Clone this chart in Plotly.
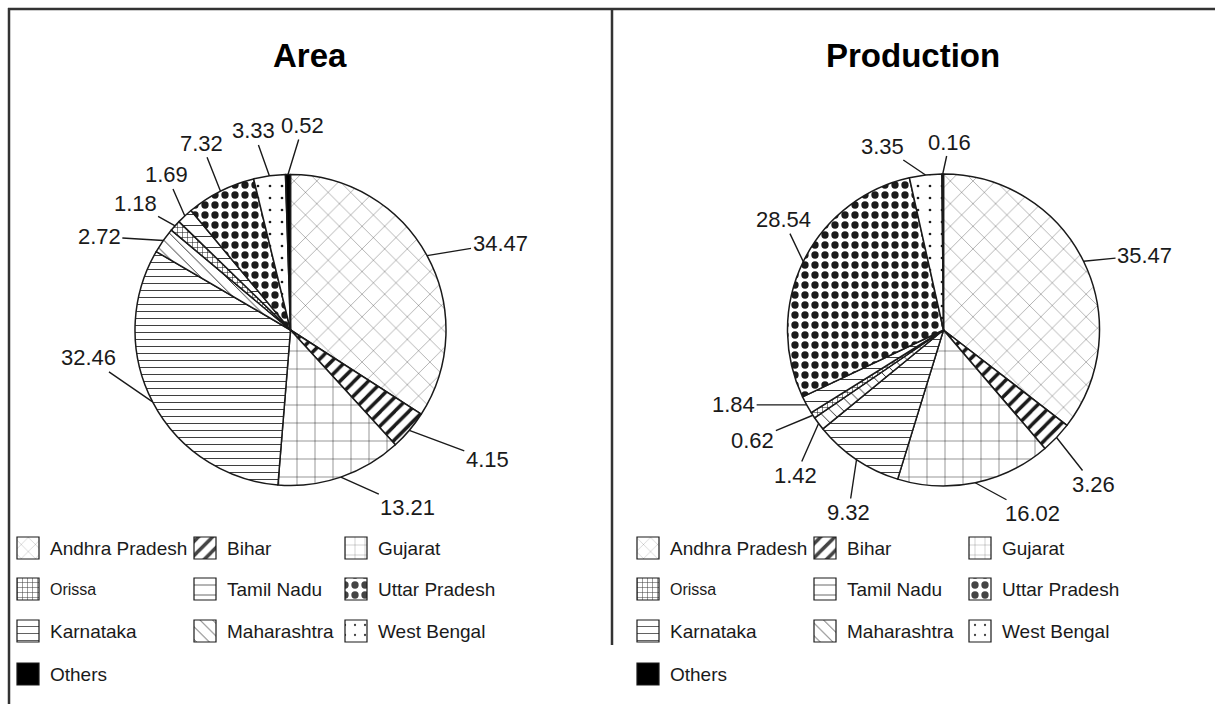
import math
import plotly.graph_objects as go

# ---------------- data ----------------
STATES = ["Andhra Pradesh", "Bihar", "Gujarat", "Karnataka", "Maharashtra",
          "Orissa", "Tamil Nadu", "Uttar Pradesh", "West Bengal", "Others"]
AREA_VALUES = [34.47, 4.15, 13.21, 32.46, 2.72, 1.18, 1.69, 7.32, 3.33, 0.52]
PRODUCTION_VALUES = [35.47, 3.26, 16.02, 9.32, 1.42, 0.62, 1.84, 28.54, 3.35, 0.16]
LEGEND_ORDER = ["Andhra Pradesh", "Bihar", "Gujarat",
                "Orissa", "Tamil Nadu", "Uttar Pradesh",
                "Karnataka", "Maharashtra", "West Bengal",
                "Others"]
TITLES = ["Area", "Production"]

# ---------------- style / layout ----------------
W, H = 1215, 704
FONT = "Liberation Sans, Arial, sans-serif"
INK = "#1a1a1a"

# pattern per state: (shape, tile size, solidity, fill colour)
PATTERNS = {
    "Andhra Pradesh": ("x", 16, 0.04, "white"),
    "Bihar": ("/", 10, 0.35, "white"),
    "Gujarat": ("+", 18, 0.05, "white"),
    "Karnataka": ("-", 7, 0.12, "white"),
    "Maharashtra": ("\\", 9, 0.10, "white"),
    "Orissa": ("+", 5, 0.20, "white"),
    "Tamil Nadu": ("-", 11, 0.08, "white"),
    "Uttar Pradesh": (".", 10, 0.42, "white"),
    "West Bengal": (".", 12, 0.04, "white"),
    "Others": ("", 8, 0.0, "black"),
}

# panel geometry (pixels): pie centre, radius, title x, legend column lefts
PANELS = [
    dict(cx=290.5, cy=330, r=155.5, title_x=310, cols=[17, 194, 345]),
    dict(cx=943.5, cy=330, r=156, title_x=913, cols=[637, 814, 969]),
]
LEGEND_ROWS_Y = [548, 589, 631, 674]
SWATCH = 22

# label text offsets (px) from the slice's mid-arc point
AREA_LABEL_OFFSETS = [(73, -12), (78, 29), (67, 30), (-64, -44), (-64, -4),
                      (-40, -22), (-18, -41), (-19, -48), (-16, -45), (15, -49)]
PROD_LABEL_OFFSETS = [(61, -6), (37, 47), (57, 31), (-8, 53), (-23, 52),
                      (-60, 25), (-73, 0), (-20, -42), (-43, -29), (7, -32)]


def pattern_lists(labels):
    shp = [PATTERNS[s][0] for s in labels]
    size = [PATTERNS[s][1] for s in labels]
    sol = [PATTERNS[s][2] for s in labels]
    col = [PATTERNS[s][3] for s in labels]
    return shp, size, sol, col


fig = go.Figure()
annotations = []

for panel, values, offsets, title in zip(PANELS, [AREA_VALUES, PRODUCTION_VALUES],
                                         [AREA_LABEL_OFFSETS, PROD_LABEL_OFFSETS], TITLES):
    cx, cy, r = panel["cx"], panel["cy"], panel["r"]
    shp, size, sol, col = pattern_lists(STATES)
    fig.add_trace(go.Pie(
        labels=STATES, values=values, sort=False, direction="clockwise", rotation=0,
        textinfo="none", hoverinfo="label+value", showlegend=False,
        domain=dict(x=[(cx - r) / W, (cx + r) / W], y=[1 - (cy + r) / H, 1 - (cy - r) / H]),
        marker=dict(colors=col, line=dict(color=INK, width=1.5),
                    pattern=dict(shape=shp, size=size, solidity=sol,
                                 fgcolor=INK, fgopacity=1, fillmode="overlay")),
    ))

    # value labels with leader lines at each slice's mid-arc
    total = sum(values)
    cum = 0.0
    for v, (dx, dy) in zip(values, offsets):
        theta = 2 * math.pi * (cum + v / 2) / total
        cum += v
        px = cx + r * math.sin(theta)
        py = cy - r * math.cos(theta)
        annotations.append(dict(
            x=px, y=py, xref="x", yref="y", text=f"{v:.2f}", showarrow=True,
            arrowhead=0, arrowwidth=1.4, arrowcolor=INK, ax=dx, ay=dy,
            font=dict(family=FONT, size=22, color=INK)))

    # title
    annotations.append(dict(x=panel["title_x"], y=55, xref="x", yref="y", text=f"<b>{title}</b>",
                            showarrow=False, font=dict(family=FONT, size=33, color="black")))

    # legend: patterned swatches (bars on hidden axes) + text
    lx, ly = [], []
    for i, s in enumerate(LEGEND_ORDER):
        row, c = divmod(i, 3)
        left = panel["cols"][c]
        lx.append(left + SWATCH / 2)
        ly.append(LEGEND_ROWS_Y[row] - SWATCH / 2)
        annotations.append(dict(
            x=left + SWATCH + 9, y=LEGEND_ROWS_Y[row], xref="x", yref="y", text=s,
            showarrow=False, xanchor="left", yanchor="middle",
            font=dict(family=FONT, size=16 if s == "Orissa" else 19, color=INK)))
    lshp, lsize, lsol, lcol = pattern_lists(LEGEND_ORDER)
    fig.add_trace(go.Bar(
        x=lx, y=[SWATCH] * len(lx), base=ly, width=SWATCH, showlegend=False, hoverinfo="skip",
        marker=dict(color=lcol, line=dict(color=INK, width=1.2),
                    pattern=dict(shape=lshp, size=[min(s, 10) for s in lsize], solidity=lsol,
                                 fgcolor=INK, fgopacity=1, fillmode="overlay")),
    ))

# frame lines
line_style = dict(color="#333333", width=2.5)
shapes = [
    dict(type="line", xref="x", yref="y", x0=8, x1=W, y0=9, y1=9, line=line_style),
    dict(type="line", xref="x", yref="y", x0=9, x1=9, y0=8, y1=H, line=line_style),
    dict(type="line", xref="x", yref="y", x0=612, x1=612, y0=9, y1=645, line=line_style),
]

fig.update_layout(
    width=W, height=H, margin=dict(l=0, r=0, t=0, b=0),
    paper_bgcolor="white", plot_bgcolor="white", showlegend=False, barmode="overlay",
    xaxis=dict(range=[0, W], visible=False, fixedrange=True),
    yaxis=dict(range=[H, 0], visible=False, fixedrange=True),
    annotations=annotations, shapes=shapes,
)

fig.write_html("out.html", config={"displayModeBar": False},
               post_script="document.body.style.margin='0';")
